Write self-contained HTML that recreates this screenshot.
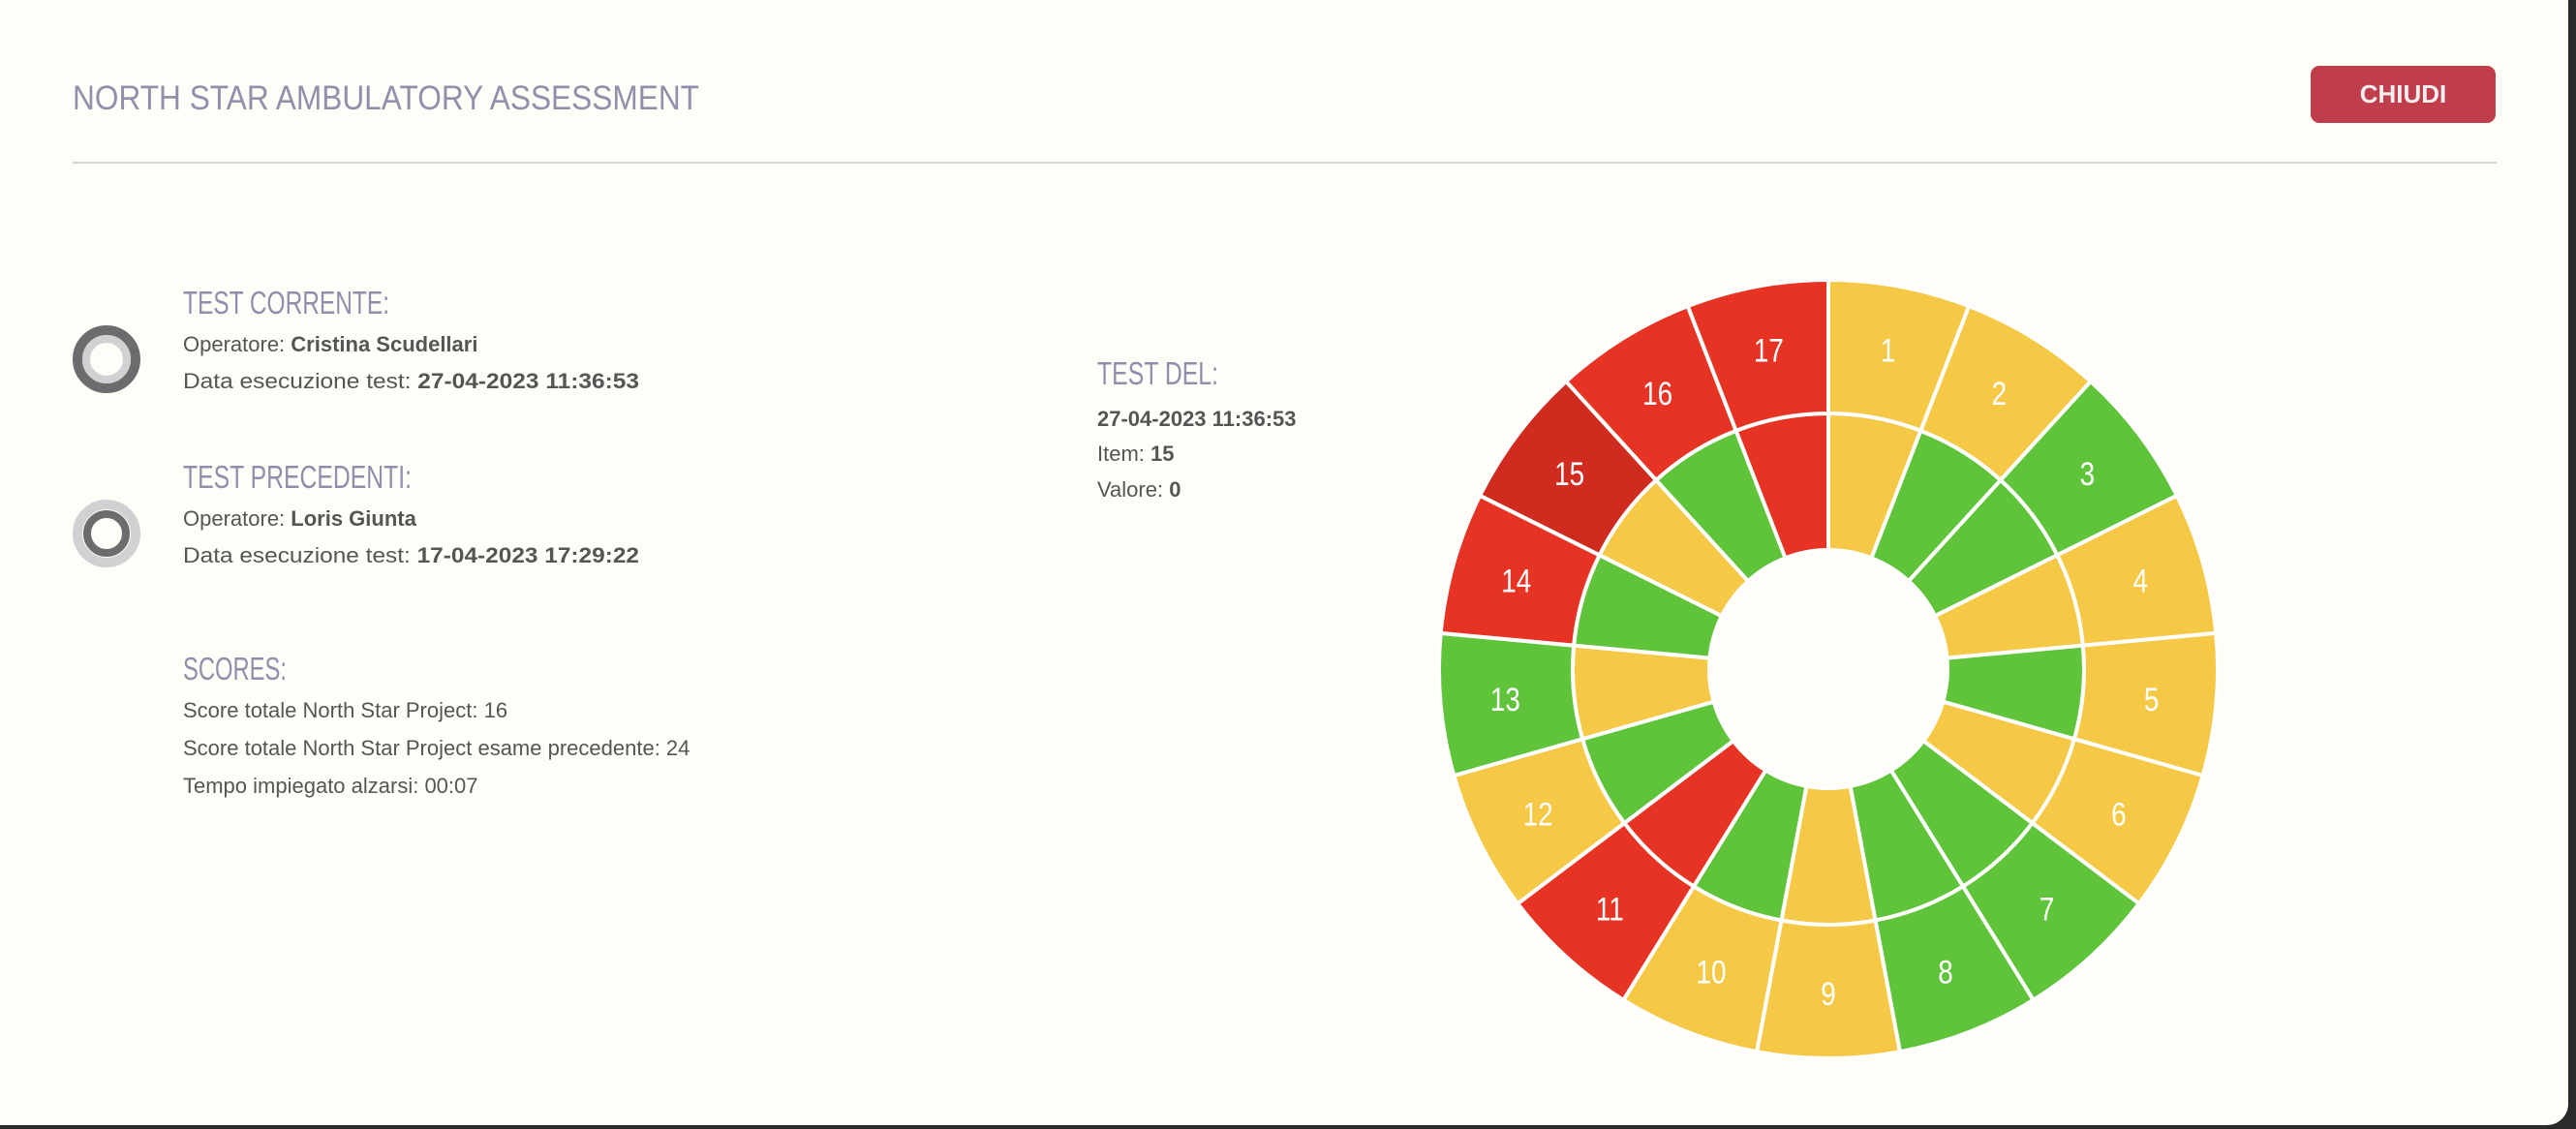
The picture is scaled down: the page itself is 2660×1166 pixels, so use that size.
<!DOCTYPE html>
<html><head><meta charset="utf-8">
<style>
html,body{margin:0;padding:0;}
body{width:2660px;height:1166px;background:#2a2a2a;position:relative;overflow:hidden;font-family:"Liberation Sans",sans-serif;}
#page{position:absolute;left:0;top:0;width:2652px;height:1162px;background:#fefdf8;border-bottom-right-radius:22px;}
.t{position:absolute;white-space:nowrap;}
.h{color:#8f8fab;font-size:33px;transform-origin:0 50%;line-height:1;}
.b{color:#555;font-size:22px;line-height:1;}
.b b{color:#555;}
.fit{display:inline-block;transform-origin:0 50%;}
</style></head>
<body>
<div id="page">
  <div class="t" style="left:75px;top:84px;"><span class="fit h" data-w="647" style="font-size:35px;color:#9090aa;">NORTH STAR AMBULATORY ASSESSMENT</span></div>
  <div style="position:absolute;left:2386px;top:68px;width:191px;height:59px;background:#c03e4b;border-radius:9px;color:#f4eeee;font-weight:bold;font-size:26px;text-align:center;line-height:59px;">CHIUDI</div>
  <div style="position:absolute;left:75px;top:167px;width:2503px;height:2px;background:#d3d3d3;"></div>

  <svg style="position:absolute;left:0;top:0" width="200" height="700">
    <g>
      <circle cx="110" cy="371" r="30" fill="none" stroke="#6b6c6e" stroke-width="10"/>
      <circle cx="110" cy="371" r="21" fill="none" stroke="#d0d1d3" stroke-width="8"/>
    </g>
    <g>
      <circle cx="110" cy="551" r="30" fill="none" stroke="#d0d1d3" stroke-width="10"/>
      <circle cx="110" cy="551" r="20" fill="none" stroke="#6b6c6e" stroke-width="8"/>
    </g>
  </svg>

  <div class="t" style="left:189px;top:296px;"><span class="fit h" data-w="213">TEST CORRENTE:</span></div>
  <div class="t b" style="left:189px;top:345px;">Operatore: <b>Cristina Scudellari</b></div>
  <div class="t b" style="left:189px;top:383px;"><span class="fit" data-w="471">Data esecuzione test: <b>27-04-2023 11:36:53</b></span></div>

  <div class="t" style="left:189px;top:476px;"><span class="fit h" data-w="236">TEST PRECEDENTI:</span></div>
  <div class="t b" style="left:189px;top:525px;">Operatore: <b>Loris Giunta</b></div>
  <div class="t b" style="left:189px;top:563px;"><span class="fit" data-w="471">Data esecuzione test: <b>17-04-2023 17:29:22</b></span></div>

  <div class="t" style="left:189px;top:674px;"><span class="fit h" data-w="107">SCORES:</span></div>
  <div class="t b" style="left:189px;top:723px;">Score totale North Star Project: 16</div>
  <div class="t b" style="left:189px;top:762px;">Score totale North Star Project esame precedente: 24</div>
  <div class="t b" style="left:189px;top:801px;">Tempo impiegato alzarsi: 00:07</div>

  <div class="t" style="left:1133px;top:369px;"><span class="fit h" data-w="125">TEST DEL:</span></div>
  <div class="t b" style="left:1133px;top:422px;font-weight:bold;">27-04-2023 11:36:53</div>
  <div class="t b" style="left:1133px;top:458px;">Item: <b>15</b></div>
  <div class="t b" style="left:1133px;top:495px;">Valore: <b>0</b></div>

  <svg id="chart" style="position:absolute;left:0;top:0" width="2660" height="1166"></svg>
</div>
<script>
const itemLabels = ["1","2","3","4","5","6","7","8","9","10","11","12","13","14","15","16","17"];
const currentScores = [1,1,2,1,1,1,2,2,1,1,0,1,2,0,0,0,0];
const previousScores = [1,2,2,1,2,1,2,2,1,2,0,2,1,2,1,2,0];
const selectedItem = "15";

const CX=1888, CY=691, R0=123, R1=264, R2=402;
const colorFor = v => v===2 ? "#5fc43a" : (v===1 ? "#f5c945" : "#e73323");
const angleScale = i => i*2*Math.PI/itemLabels.length;
function pt(r,a){return [CX+r*Math.sin(a), CY-r*Math.cos(a)];}
function arcPath(r0,r1,a0,a1){
  const p1=pt(r1,a0),p2=pt(r1,a1),p3=pt(r0,a1),p4=pt(r0,a0);
  const large=(a1-a0)>Math.PI?1:0;
  return `M${p1[0]},${p1[1]} A${r1},${r1} 0 ${large} 1 ${p2[0]},${p2[1]} L${p3[0]},${p3[1]} A${r0},${r0} 0 ${large} 0 ${p4[0]},${p4[1]} Z`;
}
const svg=document.getElementById('chart');
const NS="http://www.w3.org/2000/svg";
itemLabels.forEach((lab,i)=>{
  const a0=angleScale(i), a1=angleScale(i+1);
  const inner=document.createElementNS(NS,'path');
  inner.setAttribute('d',arcPath(R0,R1,a0,a1));
  inner.setAttribute('fill',colorFor(previousScores[i]));
  inner.setAttribute('stroke','#fff');
  inner.setAttribute('stroke-width','4');
  
  
  svg.appendChild(inner);
  const outer=document.createElementNS(NS,'path');
  outer.setAttribute('d',arcPath(R1,R2,a0,a1));
  let c=colorFor(currentScores[i]);
  if(lab===selectedItem) c="#cf2c1f";
  outer.setAttribute('fill',c);
  outer.setAttribute('stroke','#fff');
  outer.setAttribute('stroke-width','4');
  
  
  svg.appendChild(outer);
  const am=(a0+a1)/2, p=pt((R1+R2)/2+2,am);
  const tx=document.createElementNS(NS,'text');
  tx.setAttribute('x',p[0]); tx.setAttribute('y',p[1]+12);
  tx.setAttribute('text-anchor','middle');
  tx.setAttribute('fill','#fff');
  tx.setAttribute('font-size','34');
  tx.setAttribute('font-family','Liberation Sans, sans-serif');
  tx.setAttribute('transform',`translate(${p[0]},0) scale(0.82,1) translate(${-p[0]},0)`);
  tx.textContent=lab;
  
  
  svg.appendChild(tx);
});
document.querySelectorAll('.fit').forEach(el=>{
  const w=+el.getAttribute('data-w'); const r=el.getBoundingClientRect().width;
  if(r>0) el.style.transform=`scaleX(${w/r})`;
});
</script>
</body></html>
